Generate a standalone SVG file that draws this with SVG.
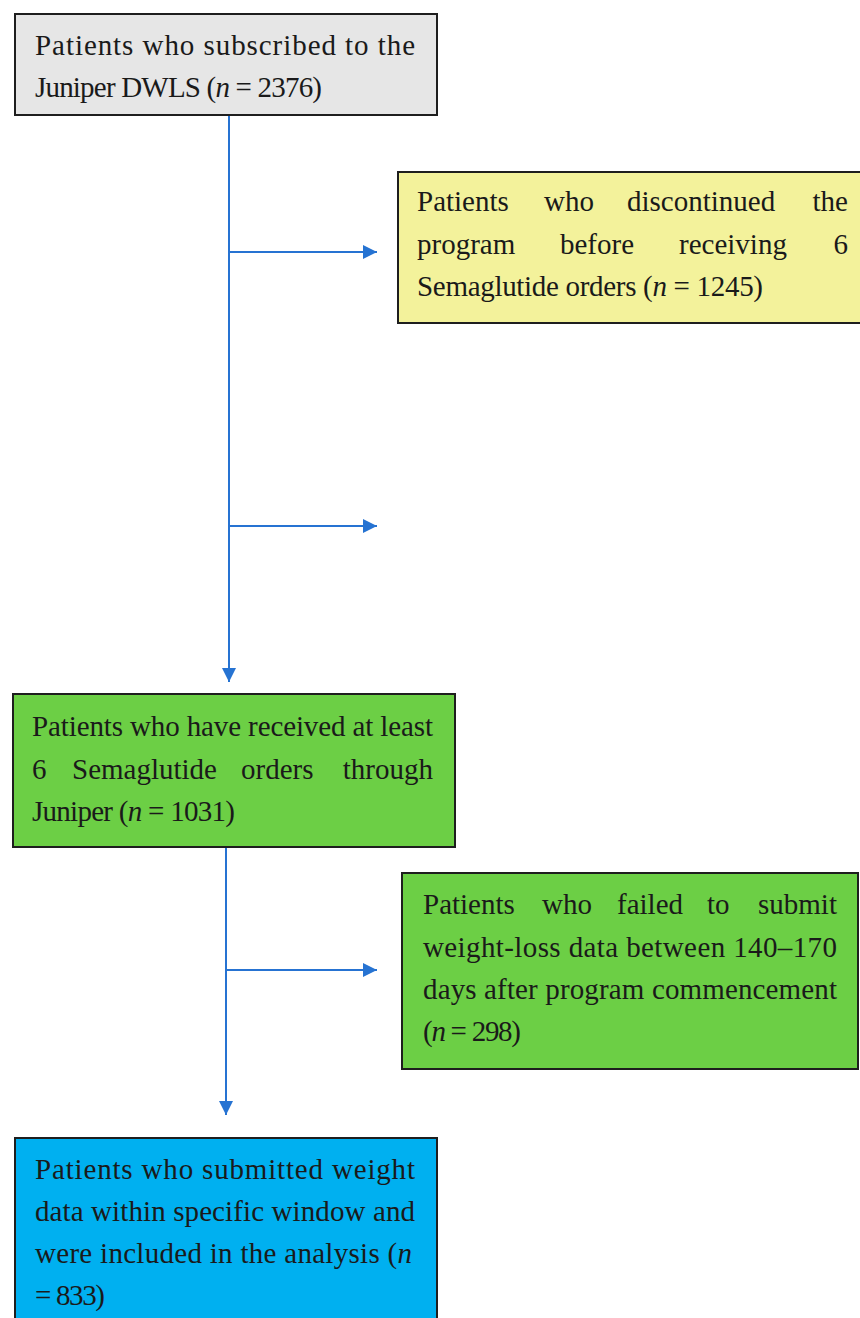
<svg xmlns="http://www.w3.org/2000/svg" width="860" height="1318" viewBox="0 0 860 1318">
<style>
.box{stroke:#1e1e1e;stroke-width:2}
.t{font-family:"Liberation Serif","Times New Roman",serif;font-size:29px;fill:#1a1a1a}
.e{text-anchor:end}
.i{font-style:italic}
.c{stroke:#2673d2;stroke-width:2;fill:none}
</style>
<defs>
<marker id="ah" viewBox="0 0 10 10" refX="10" refY="5" markerWidth="8" markerHeight="7" markerUnits="strokeWidth" orient="auto">
<path d="M0,0 L10,5 L0,10 Z" fill="#2673d2"/>
</marker>
</defs>
<rect width="860" height="1318" fill="#ffffff"/>
<g id="connectors">
<line class="c" x1="229" y1="115" x2="229" y2="682" marker-end="url(#ah)"/>
<line class="c" x1="229" y1="252" x2="377" y2="252" marker-end="url(#ah)"/>
<line class="c" x1="229" y1="526" x2="377" y2="526" marker-end="url(#ah)"/>
<line class="c" x1="226" y1="847" x2="226" y2="1115" marker-end="url(#ah)"/>
<line class="c" x1="226" y1="970" x2="377" y2="970" marker-end="url(#ah)"/>
</g>
<g id="subscribed">
<rect class="box" x="15" y="14" width="422" height="101" fill="#e6e6e6"/>
<text class="t" x="35" y="55" textLength="380" lengthAdjust="spacing">Patients who subscribed to the</text>
<text class="t" x="35" y="97" textLength="287" lengthAdjust="spacing">Juniper DWLS (<tspan class="i">n</tspan> = 2376)</text>
</g>
<g id="discontinued">
<rect class="box" x="398" y="172" width="470" height="151" fill="#f3f29b"/>
<text class="t" x="417" y="211">Patients</text>
<text class="t" x="544" y="211">who</text>
<text class="t" x="627" y="211">discontinued</text>
<text class="t e" x="848" y="211">the</text>
<text class="t" x="417" y="254">program</text>
<text class="t" x="560" y="254">before</text>
<text class="t" x="679" y="254">receiving</text>
<text class="t e" x="848" y="254">6</text>
<text class="t" x="417" y="296" textLength="346" lengthAdjust="spacing">Semaglutide orders (<tspan class="i">n</tspan> = 1245)</text>
</g>
<g id="received">
<rect class="box" x="13" y="694" width="442" height="153" fill="#6ccf45"/>
<text class="t" x="32" y="736" textLength="401" lengthAdjust="spacing">Patients who have received at least</text>
<text class="t" x="32" y="779">6</text>
<text class="t" x="72" y="779">Semaglutide</text>
<text class="t" x="241" y="779">orders</text>
<text class="t e" x="433" y="779">through</text>
<text class="t" x="32" y="821" textLength="203" lengthAdjust="spacing">Juniper (<tspan class="i">n</tspan> = 1031)</text>
</g>
<g id="failed">
<rect class="box" x="402" y="873" width="456" height="196" fill="#6ccf45"/>
<text class="t" x="423" y="914">Patients</text>
<text class="t" x="542" y="914">who</text>
<text class="t" x="617" y="914">failed</text>
<text class="t" x="707" y="914">to</text>
<text class="t e" x="837" y="914">submit</text>
<text class="t" x="423" y="957" textLength="414" lengthAdjust="spacing">weight-loss data between 140–170</text>
<text class="t" x="423" y="999" textLength="414" lengthAdjust="spacing">days after program commencement</text>
<text class="t" x="423" y="1041" textLength="98" lengthAdjust="spacing">(<tspan class="i">n</tspan> = 298)</text>
</g>
<g id="included">
<rect class="box" x="15" y="1138" width="422" height="190" fill="#00b0f0"/>
<text class="t" x="35" y="1179" textLength="380" lengthAdjust="spacing">Patients who submitted weight</text>
<text class="t" x="35" y="1221" textLength="380" lengthAdjust="spacing">data within specific window and</text>
<text class="t" x="35" y="1263" textLength="377" lengthAdjust="spacing">were included in the analysis (<tspan class="i">n</tspan></text>
<text class="t" x="35" y="1305" textLength="70" lengthAdjust="spacing">= 833)</text>
</g>
</svg>
